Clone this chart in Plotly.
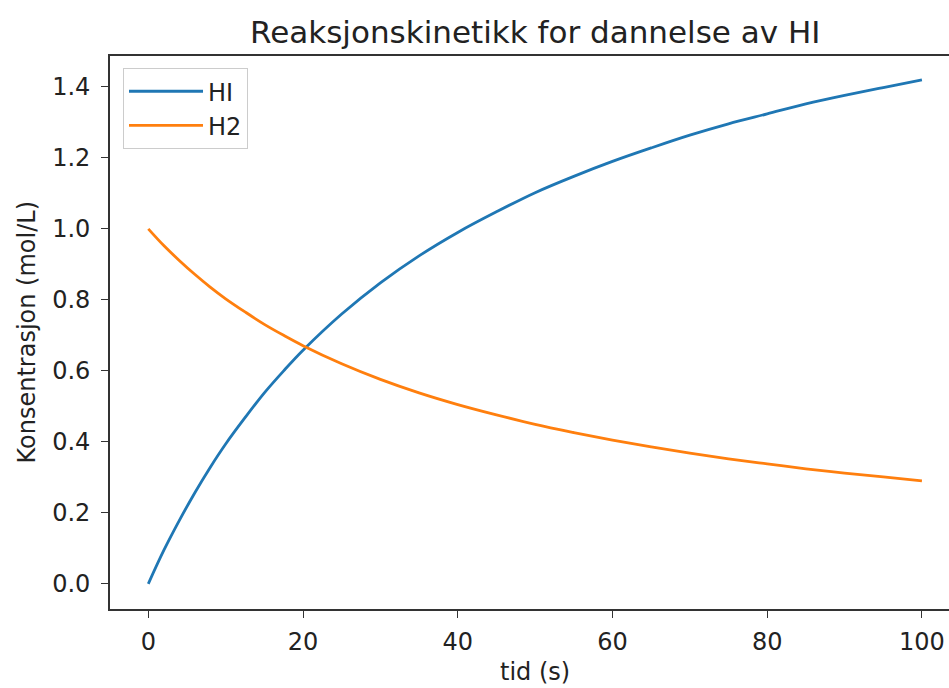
import plotly.graph_objects as go

t = [0, 2, 4, 6, 8, 10, 12.5, 15, 17.5, 20, 25, 30, 35, 40, 45, 50, 55, 60, 65, 70, 75, 80, 85, 90, 95, 100]
h2 = [1.000, 0.953, 0.911, 0.872, 0.836, 0.803, 0.766, 0.731, 0.700, 0.671, 0.620, 0.576, 0.538, 0.505,
      0.476, 0.449, 0.426, 0.405, 0.386, 0.368, 0.352, 0.338, 0.324, 0.312, 0.301, 0.290]
hi = [0.000, 0.094, 0.178, 0.256, 0.328, 0.394, 0.468, 0.538, 0.600, 0.658, 0.760, 0.848, 0.924, 0.990,
      1.048, 1.102, 1.148, 1.190, 1.228, 1.264, 1.296, 1.324, 1.352, 1.376, 1.398, 1.420]
x_ticks = [0, 20, 40, 60, 80, 100]
y_ticks = [0.0, 0.2, 0.4, 0.6, 0.8, 1.0, 1.2, 1.4]

FONT = "DejaVu Sans"
fig = go.Figure()
fig.add_trace(go.Scatter(x=t, y=hi, mode="lines", name="HI",
                         line=dict(color="#1f77b4", width=2.8, shape="spline")))
fig.add_trace(go.Scatter(x=t, y=h2, mode="lines", name="H2",
                         line=dict(color="#ff7f0e", width=2.8, shape="spline")))

fig.update_layout(
    width=949, height=688,
    margin=dict(l=110, r=0, t=56, b=79),
    paper_bgcolor="white", plot_bgcolor="white",
    font=dict(family=FONT, size=24, color="#222222"),
    showlegend=True,
    legend=dict(x=0.0155, y=0.978, xanchor="left", yanchor="top",
                bgcolor="rgba(255,255,255,0.8)", bordercolor="#cccccc", borderwidth=1,
                font=dict(family=FONT, size=24, color="#222222"),
                tracegroupgap=0, itemwidth=74),
    xaxis=dict(range=[-4.95, 103.5], tickvals=x_ticks, ticktext=[str(v) for v in x_ticks],
               showgrid=False, zeroline=False, showline=True, linecolor="#333333", linewidth=1.6,
               mirror=True, ticks="outside", ticklen=7, tickwidth=1.4, tickcolor="#333333",
               ticklabelstandoff=3,
               tickfont=dict(family=FONT, size=24, color="#222222")),
    yaxis=dict(range=[-0.071, 1.487], tickvals=y_ticks, ticktext=[f"{v:.1f}" for v in y_ticks],
               showgrid=False, zeroline=False, showline=True, linecolor="#333333", linewidth=1.6,
               mirror=False, ticks="outside", ticklen=7, tickwidth=1.4, tickcolor="#333333",
               ticklabelstandoff=6,
               tickfont=dict(family=FONT, size=24, color="#222222")),
    annotations=[
        dict(text="Reaksjonskinetikk for dannelse av HI", xref="x", yref="paper", x=50, y=1,
             xanchor="center", yanchor="bottom", yshift=4, showarrow=False,
             font=dict(family=FONT, size=31, color="#222222")),
        dict(text="tid (s)", xref="x", yref="paper", x=50, y=0, xanchor="center", yanchor="top",
             yshift=-47, showarrow=False, font=dict(family=FONT, size=24, color="#222222")),
        dict(text="Konsentrasjon (mol/L)", xref="paper", yref="paper", x=0, y=0.5, xshift=-84,
             xanchor="center", yanchor="middle", textangle=-90, showarrow=False,
             font=dict(family=FONT, size=24, color="#222222")),
    ],
)

fig.write_html("out.html", config={"displayModeBar": False},
               post_script="document.body.style.margin='0';document.body.style.overflow='hidden';")
